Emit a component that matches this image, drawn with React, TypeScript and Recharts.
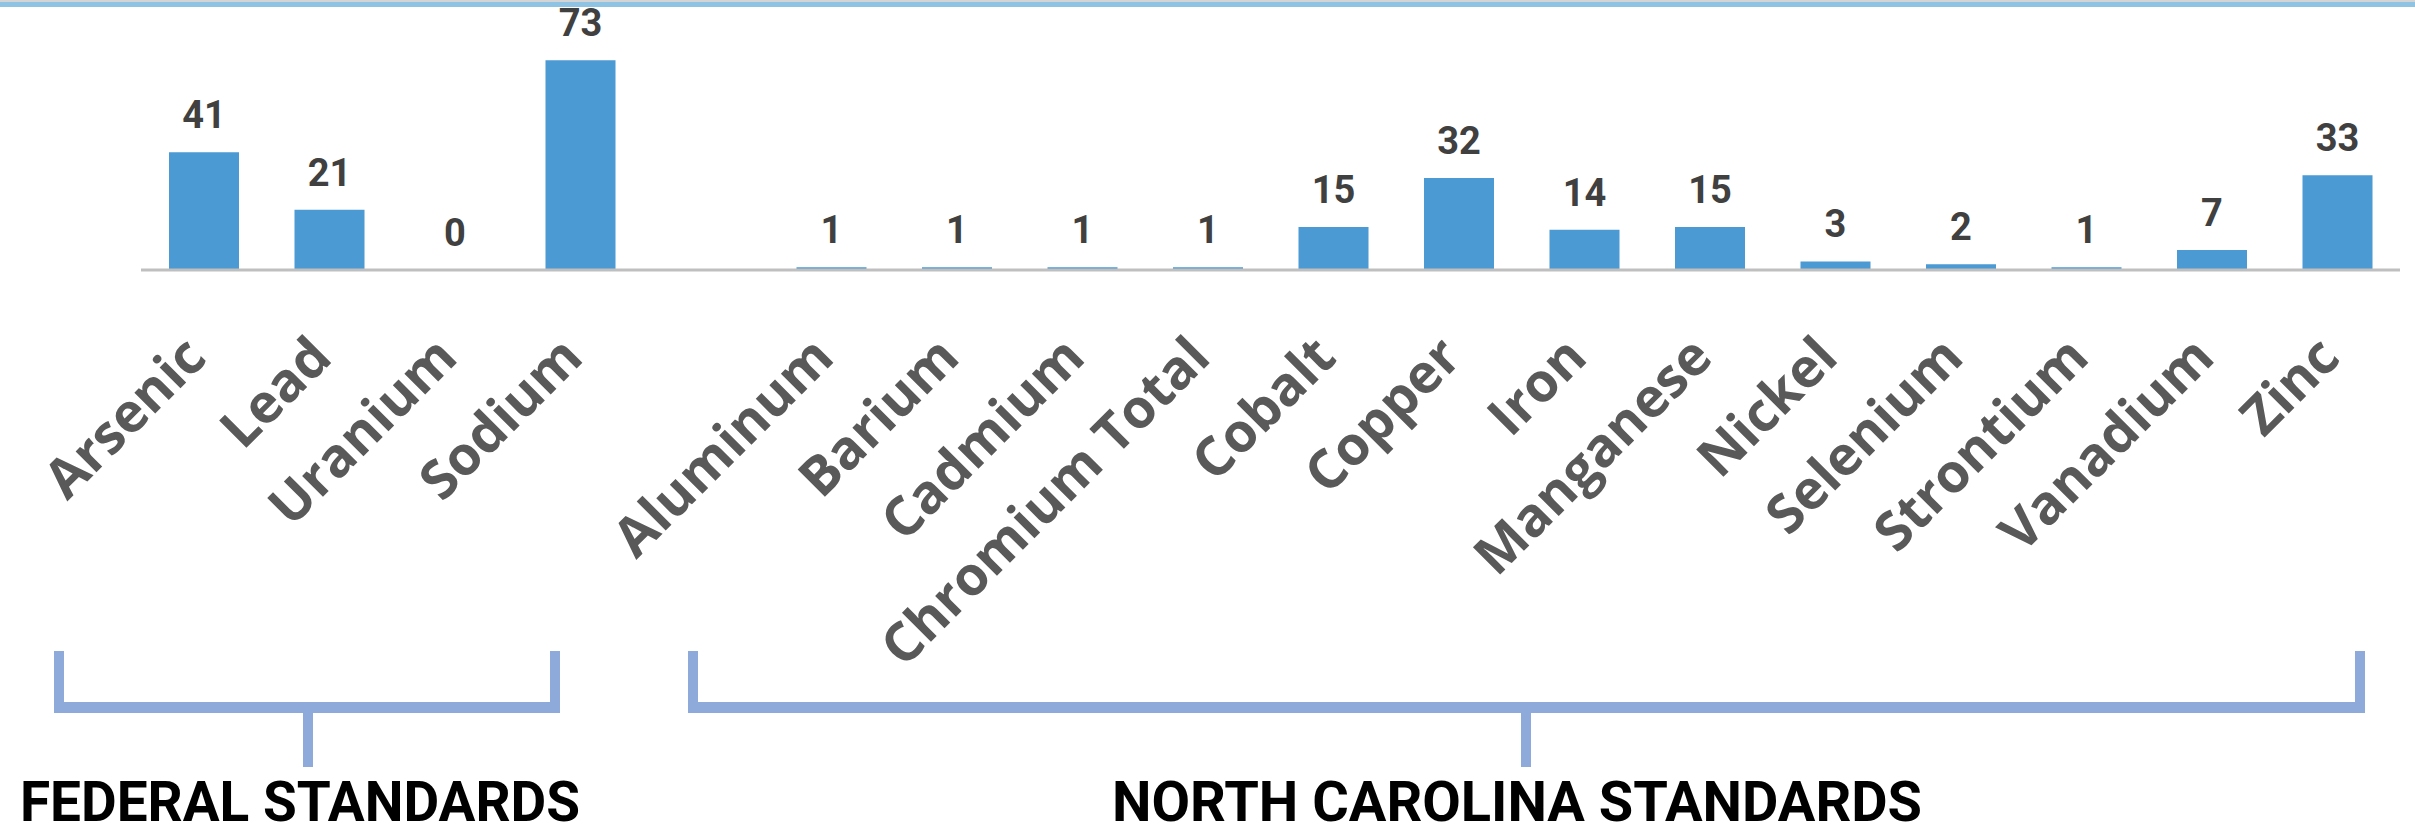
import * as React from "react";
import { BarChart, Bar, XAxis, YAxis, LabelList } from "recharts";

// elements, in chart order ("" is the blank slot between the two groups)
const elements = [
  "Arsenic",
  "Lead",
  "Uranium",
  "Sodium",
  "",
  "Aluminum",
  "Barium",
  "Cadmium",
  "Chromium Total",
  "Cobalt",
  "Copper",
  "Iron",
  "Manganese",
  "Nickel",
  "Selenium",
  "Strontium",
  "Vanadium",
  "Zinc",
];
const exceedances = [41, 21, 0, 73, null, 1, 1, 1, 1, 15, 32, 14, 15, 3, 2, 1, 7, 33];

const groupNames = ["FEDERAL STANDARDS", "NORTH CAROLINA STANDARDS"];

const W = 2415;
const H = 826;
const PLOT_TOP = 40;
const PLOT_BOTTOM = 270;

const BAR_COLOR = "#4b9ad3";
const BRACKET = "#8eaadb";
const NUM_FONT = "Roboto, 'DejaVu Sans', sans-serif";

const data = elements.map((name, i) => ({ name, value: exceedances[i] }));

function ElementTick(props: any) {
  const { x, payload } = props;
  if (!payload.value) return null;
  const ax = x + 5;
  const ay = PLOT_BOTTOM + 90;
  return (
    <text
      x={ax}
      y={ay}
      transform={`rotate(-45 ${ax} ${ay})`}
      textAnchor="end"
      fill="#595959"
      fontFamily="'Open Sans', sans-serif"
      fontWeight={700}
      fontSize={54}
    >
      {payload.value}
    </text>
  );
}

// bracket layout: [left, right, stem x]
const brackets = [
  [54, 560, 308],
  [688, 2365, 1526],
];
const titleLayout = [
  [20, 560],
  [1112, 810],
];

export default function App() {
  return (
    <div
      style={{
        position: "absolute",
        left: 0,
        top: 0,
        width: W,
        height: H,
        background: "#fff",
        overflow: "hidden",
      }}
    >
      <div style={{ position: "absolute", left: 0, top: 0, width: W, height: 2, background: "#d4d4d4" }} />
      <div style={{ position: "absolute", left: 0, top: 2, width: W, height: 5, background: "#8fc3e3" }} />
      <div style={{ position: "absolute", left: 0, top: 0 }}>
        <BarChart
          width={W}
          height={H}
          data={data}
          margin={{ top: PLOT_TOP, right: 15, left: 141, bottom: 0 }}
        >
          <XAxis
            dataKey="name"
            interval={0}
            height={H - PLOT_BOTTOM}
            tickLine={false}
            axisLine={{ stroke: "#bfbfbf", strokeWidth: 3 }}
            tick={<ElementTick />}
          />
          <YAxis hide domain={[0, 80]} />
          <Bar
            dataKey="value"
            fill={BAR_COLOR}
            barSize={70}
            minPointSize={(v: any) => (v === 0 ? 0.01 : 0)}
            isAnimationActive={false}
          >
            <LabelList
              dataKey="value"
              position="top"
              offset={24}
              fill="#404040"
              fontFamily={NUM_FONT}
              fontWeight={700}
              fontSize={38}
            />
          </Bar>
        </BarChart>
      </div>
      <svg
        width={W}
        height={H}
        style={{ position: "absolute", left: 0, top: 0, pointerEvents: "none" }}
      >
        {brackets.map(([l, r, s], i) => (
          <g key={i} fill={BRACKET}>
            <rect x={l} y={651} width={10} height={62} />
            <rect x={r - 10} y={651} width={10} height={62} />
            <rect x={l} y={702} width={r - l} height={11} />
            <rect x={s - 5} y={713} width={10} height={54} />
          </g>
        ))}
        {groupNames.map((g, i) => (
          <text
            key={g}
            x={titleLayout[i][0]}
            y={821}
            textLength={titleLayout[i][1]}
            lengthAdjust="spacingAndGlyphs"
            fill="#000"
            fontFamily={NUM_FONT}
            fontWeight={700}
            fontSize={56}
          >
            {g}
          </text>
        ))}
      </svg>
    </div>
  );
}
